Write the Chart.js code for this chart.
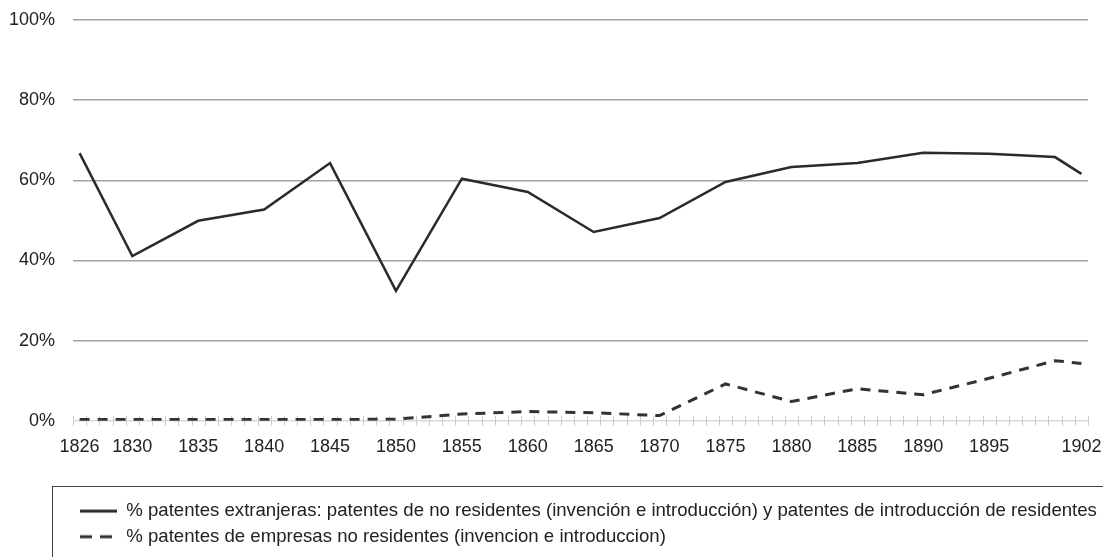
<!DOCTYPE html>
<html>
<head>
<meta charset="utf-8">
<script src="https://cdn.jsdelivr.net/npm/chart.js@4.4.1/dist/chart.umd.min.js"></script>
<style>
  html, body { margin: 0; padding: 0; background: #fff; }
  #wrap { width: 1103px; height: 557px; }
</style>
</head>
<body>
<div id="wrap"><canvas id="myChart"></canvas></div>
<script>
// one category per year, labels only on some of them
const firstYear = 1826
const lastYear = 1902
const labeledYears = ['1826', '1830', '1835', '1840', '1845', '1850', '1855', '1860', '1865', '1870', '1875', '1880', '1885', '1890', '1895', '1902']

// years that have a value
const pointYears = ['1826', '1830', '1835', '1840', '1845', '1850', '1855', '1860', '1865', '1870', '1875', '1880', '1885', '1890', '1895', '1900', '1902']
const extranjeras = [66.8, 41.1, 49.9, 52.7, 64.3, 32.4, 60.4, 57.1, 47.1, 50.6, 59.6, 63.3, 64.3, 66.9, 66.6, 65.8, 61.6]
const empresas = [0.3, 0.3, 0.3, 0.3, 0.3, 0.4, 1.7, 2.3, 2.0, 1.3, 9.2, 4.8, 8.0, 6.5, 10.6, 15.0, 14.3]

const years = []
for (let y = firstYear; y <= lastYear; y++) years.push(String(y))

const toPoints = values => pointYears.map((yr, i) => ({x: yr, y: values[i]}))

Chart.defaults.font.family = "'Liberation Sans', Arial, sans-serif"
Chart.defaults.color = '#222'

// legend samples: a short line, solid or dashed
const sampleLine = (color, width, dash) => {
    const c = document.createElement('canvas')
    c.width = 37
    c.height = 6
    const g = c.getContext('2d')
    g.strokeStyle = color
    g.lineWidth = width
    g.setLineDash(dash)
    g.beginPath()
    g.moveTo(0, 3)
    g.lineTo(37, 3)
    g.stroke()
    return c
}

// small tick marks crossing the 0% line, one per year boundary
const axisTicks = {
    id: 'axisTicks',
    beforeDatasetsDraw(chart) {
        const {ctx, scales: {x, y}} = chart
        const y0 = y.getPixelForValue(0)
        const half = (x.getPixelForValue(1) - x.getPixelForValue(0)) / 2
        ctx.save()
        ctx.strokeStyle = '#cccccc'
        ctx.lineWidth = 1
        ctx.beginPath()
        for (let i = 0; i <= years.length; i++) {
            const px = Math.round(x.getPixelForValue(i) - half) + 0.5
            ctx.moveTo(px, y0 - 5)
            ctx.lineTo(px, y0 + 5)
        }
        ctx.stroke()
        ctx.restore()
    }
}

// legend lines up with the plot, framed by a box
const legendBox = {
    id: 'legendBox',
    afterLayout(chart) {
        const lg = chart.legend
        lg.left = chart.chartArea.left
        lg.right = chart.width
        lg.width = lg.right - lg.left
    },
    afterDraw(chart) {
        const lg = chart.legend
        const ctx = chart.ctx
        ctx.save()
        ctx.strokeStyle = '#444'
        ctx.lineWidth = 1
        ctx.strokeRect(Math.round(lg.left - 21) + 0.5, Math.round(lg.top - 9) + 0.5, chart.width, chart.height)
        ctx.restore()
    }
}

new Chart(document.getElementById('myChart'), {
    type: 'line',
    data: {
        labels: years,
        datasets: [{
            label: '% patentes extranjeras: patentes de no residentes (invención e introducción) y patentes de introducción de residentes',
            data: toPoints(extranjeras),
            borderColor: '#2b2b2b',
            backgroundColor: '#2b2b2b',
            borderWidth: 2.5,
            pointRadius: 0,
            pointStyle: sampleLine('#2b2b2b', 3, []),
            tension: 0
        }, {
            label: '% patentes de empresas no residentes (invencion e introduccion)',
            data: toPoints(empresas),
            borderColor: '#333',
            backgroundColor: '#333',
            borderWidth: 3,
            borderDash: [10, 8],
            pointRadius: 0,
            pointStyle: sampleLine('#333', 3, [12, 8]),
            tension: 0
        }]
    },
    options: {
        responsive: true,
        maintainAspectRatio: false,
        animation: false,
        layout: {padding: {top: 20, right: 15, bottom: 1, left: 0}},
        scales: {
            x: {
                offset: true,
                grid: {display: false, drawTicks: false},
                border: {display: false},
                ticks: {
                    autoSkip: false,
                    maxRotation: 0,
                    minRotation: 0,
                    padding: 15,
                    font: {size: 18},
                    callback: (val, i) => labeledYears.includes(years[i]) ? years[i] : ''
                },
                afterFit: s => {
                    s.height = 74
                    s.paddingLeft = 0
                    s.paddingRight = 0
                }
            },
            y: {
                min: 0,
                max: 100,
                ticks: {stepSize: 20, padding: 18, font: {size: 18}, callback: v => v + '%'},
                grid: {
                    color: c => c.tick && c.tick.value === 0 ? '#dadada' : '#a3a3a3',
                    lineWidth: 1.5,
                    drawTicks: false
                },
                border: {display: false},
                afterFit: s => {
                    s.width = 73
                    s.paddingTop = 0
                    s.paddingBottom = 0
                }
            }
        },
        plugins: {
            legend: {
                position: 'bottom',
                align: 'start',
                labels: {
                    usePointStyle: true,
                    pointStyleWidth: 37,
                    padding: 7,
                    font: {size: 18.6}
                }
            },
            tooltip: {enabled: false}
        }
    },
    plugins: [axisTicks, legendBox]
})
</script>
</body>
</html>
